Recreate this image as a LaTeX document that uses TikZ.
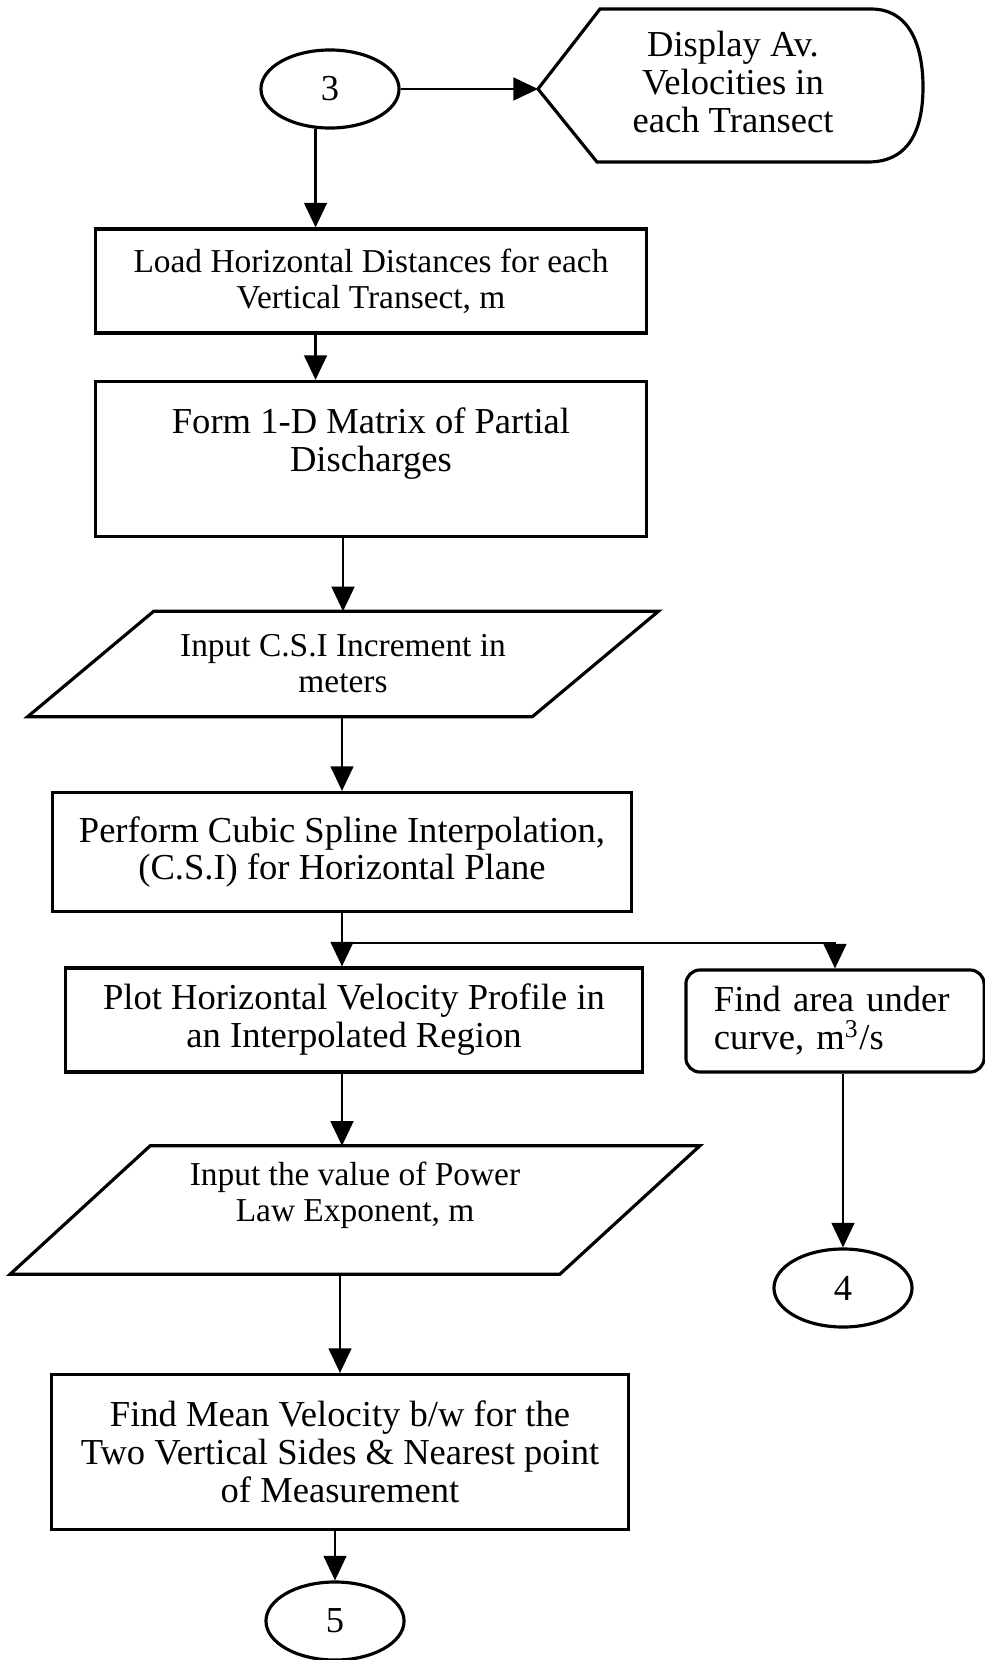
\documentclass[tikz,border=0pt]{standalone}
\usepackage{fontspec}
\setmainfont{Liberation Serif}
\usetikzlibrary{shapes.geometric,arrows.meta}
\newcommand{\normtxt}{\fontsize{10.4}{10.8}\selectfont}
\newcommand{\smtxt}{\fontsize{9.5}{10.2}\selectfont}
\begin{document}
\begin{tikzpicture}[
    x=0.01cm, y=-0.01cm,
    box/.style={draw, line width=0.9pt, align=center, inner sep=0pt, font=\normtxt},
    conn/.style={ellipse, draw, line width=0.9pt, inner sep=0pt, minimum width=1.38cm, minimum height=0.78cm, font=\normtxt},
    iotxt/.style={align=center, inner sep=0pt, font=\smtxt},
    outline/.style={line width=0.9pt, line join=miter},
    arr/.style={-{Triangle[length=7pt,width=6.5pt]}, line width=0.6pt}
  ]
    \useasboundingbox (0,0) rectangle (985,1660);

    % connector 3 and display
    \node[conn] (c3) at (330,89) {3};
    \coordinate (disp) at (538,89);
    \draw[outline] (disp) -- (600,9) -- (871,9) .. controls (912,9) and (923,50) .. (923,87)
      .. controls (923,125) and (912,162) .. (868,162) -- (597,162) -- cycle;
    \node[align=center, font=\normtxt] (disptxt) at (733,82) {Display Av.\\Velocities in\\each Transect};

    % main column
    \node[box, minimum width=5.51cm, minimum height=1.04cm, font=\smtxt] (load) at (371,281) {Load Horizontal Distances for each\\Vertical Transect, m};
    \node[box, minimum width=5.51cm, minimum height=1.55cm] (form) at (371,459) {Form 1-D Matrix of Partial\\Discharges\\~};
    \node[iotxt, minimum width=5.03cm, minimum height=1.04cm] (csi) at (343,664) {Input C.S.I Increment in\\meters};
    \draw[outline] ([xshift=0.63cm]csi.north west) -- ([xshift=0.63cm]csi.north east)
      -- ([xshift=-0.63cm]csi.south east) -- ([xshift=-0.63cm]csi.south west) -- cycle;
    \node[box, minimum width=5.78cm, minimum height=1.19cm] (csp) at (342,852) {Perform Cubic Spline Interpolation,\\(C.S.I) for Horizontal Plane};
    \coordinate (split) at (342,943);
    \node[box, minimum width=5.77cm, minimum height=1.04cm] (plot) at (354,1020) {Plot Horizontal Velocity Profile in\\an Interpolated Region};
    \node[box, rounded corners=4pt, minimum width=2.98cm, minimum height=1.02cm, align=left, text width=2.42cm] (area) at (835,1021) {Find area under\\curve, m\textsuperscript{3}/s};
    \node[iotxt, minimum width=5.48cm, minimum height=1.27cm] (pw) at (355,1210) {Input the value of Power\\Law Exponent, m\\~};
    \draw[outline] ([xshift=0.7cm]pw.north west) -- ([xshift=0.7cm]pw.north east)
      -- ([xshift=-0.7cm]pw.south east) -- ([xshift=-0.7cm]pw.south west) -- cycle;
    \node[box, minimum width=5.77cm, minimum height=1.55cm] (mean) at (340,1452) {Find Mean Velocity b/w for the\\Two Vertical Sides \& Nearest point\\of Measurement};
    \node[conn] (c4) at (843,1288) {4};
    \node[conn] (c5) at (335,1621) {5};

    % connectors
    \draw[arr] (c3.east) -- (disp);
    \draw[arr] (c3.250) -- (c3.250 |- load.north);
    \draw[arr] (load.south -| c3.250) -- (form.north -| c3.250);
    \draw[arr] (csi.north |- form.south) -- (csi.north);
    \draw[arr] (csp.north |- csi.south) -- (csp.north);
    \draw[arr] (csp.south) -- (split |- plot.north);
    \draw[arr] (split) -| (area.north);
    \draw[arr] (plot.south -| split) -- (pw.north -| split);
    \draw[arr] (pw.south -| mean.north) -- (mean.north);
    \draw[arr] (mean.south -| c5.north) -- (c5.north);
    \draw[arr] (area.south -| c4.north) -- (c4.north);
  \end{tikzpicture}
\end{document}
